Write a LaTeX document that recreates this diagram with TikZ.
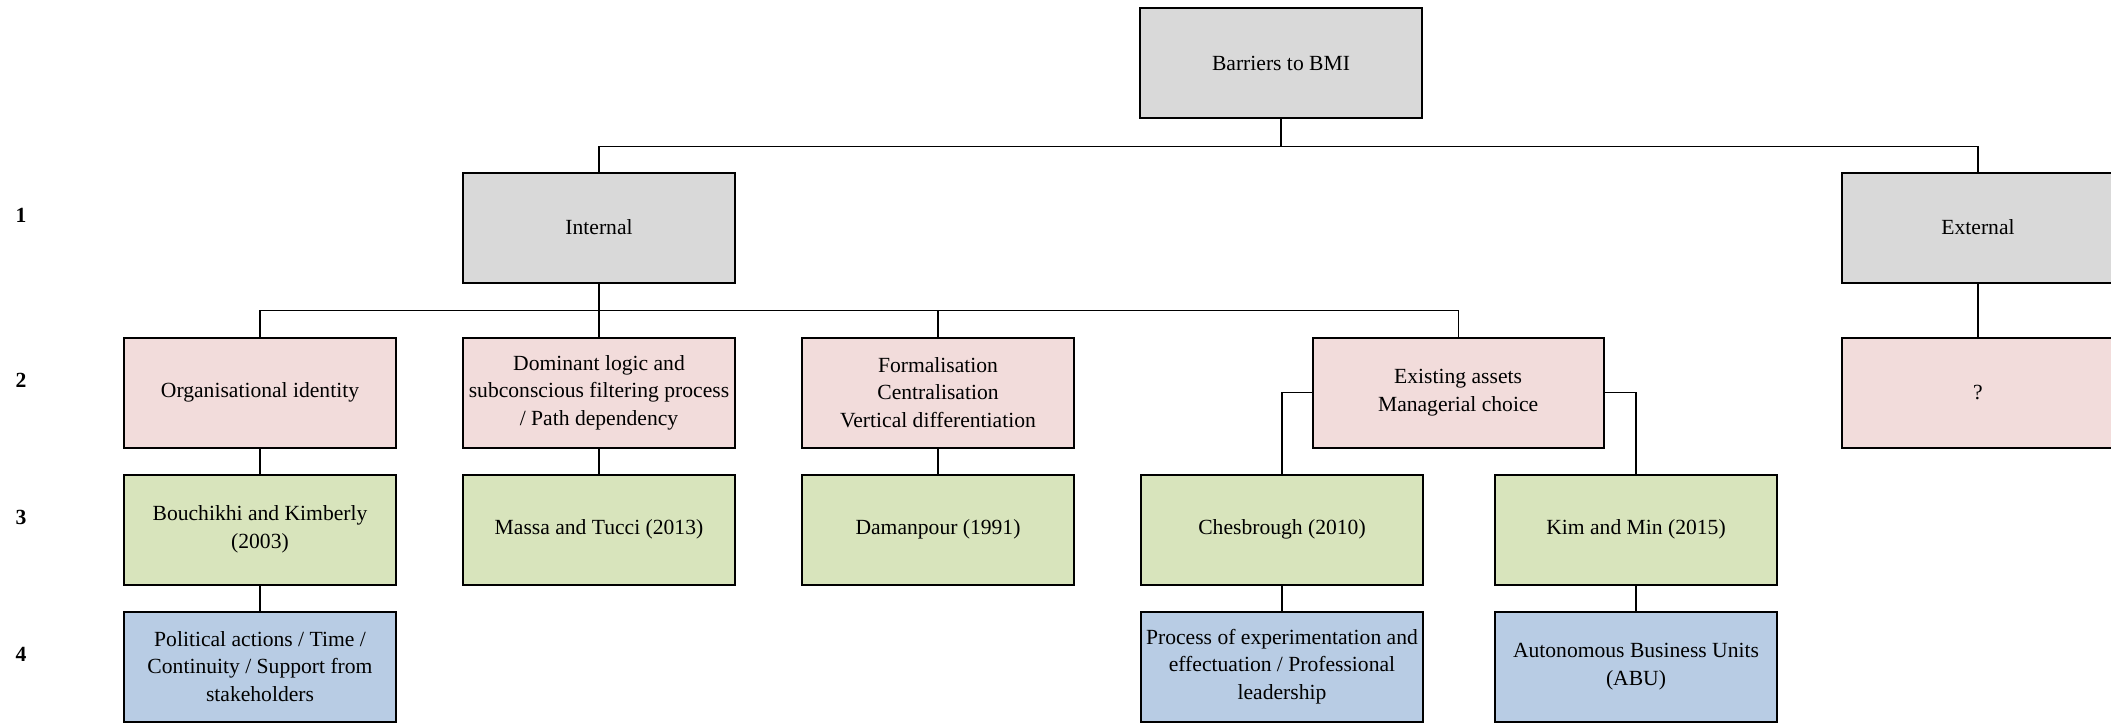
\documentclass[tikz,border=0pt]{standalone}
\usepackage{fontspec}
\setmainfont{Liberation Serif}
\usepackage{xcolor}
\usepackage{tikz}
\usetikzlibrary{positioning,calc}
\definecolor{levelgray}{HTML}{D9D9D9}
\definecolor{issuepink}{HTML}{F2DCDB}
\definecolor{sourcegreen}{HTML}{D8E4BC}
\definecolor{factorblue}{HTML}{B8CCE4}
\tikzset{
  box/.style={draw, line width=1pt, rectangle, minimum height=55pt, minimum width=136pt,
    inner sep=2pt, align=center, font=\fontsize{10.8pt}{13.8pt}\selectfont},
  level/.style={box, fill=levelgray},
  issue/.style={box, fill=issuepink},
  source/.style={box, fill=sourcegreen},
  factor/.style={box, fill=factorblue},
  rowno/.style={font=\fontsize{10.8pt}{13.8pt}\selectfont\bfseries},
  link/.style={line width=0.6pt},
}

\begin{document}
\begin{tikzpicture}
  \useasboundingbox (0,0) rectangle (1055.5pt,-361.5pt);
  % top levels
  \node[level, minimum width=141pt] (bmi) at (640.5pt,-31.5pt) {Barriers to BMI};
  \node[level] (int) at (299.5pt,-113.75pt) {Internal};
  \node[level] (ext) at (989pt,-113.75pt) {External};

  % barriers
  \node[issue, below=26.5pt of int] (dom) {Dominant logic and\\subconscious filtering process\\/ Path dependency};
  \node[issue, left=32.5pt of dom] (org) {Organisational identity};
  \node[issue, right=32.5pt of dom] (form) {Formalisation\\Centralisation\\Vertical differentiation};
  \node[issue, minimum width=145.5pt, right=118.3pt of form] (assets) {Existing assets\\Managerial choice};
  \node[issue, below=26.5pt of ext] (unk) {?};

  % sources
  \node[source, below=12.5pt of org] (bou) {Bouchikhi and Kimberly\\(2003)};
  \node[source, below=12.5pt of dom] (massa) {Massa and Tucci (2013)};
  \node[source, below=12.5pt of form] (dam) {Damanpour (1991)};
  \node[source, minimum width=141pt, right=32.5pt of dam] (ches) {Chesbrough (2010)};
  \node[source, minimum width=141pt, right=35pt of ches] (kim) {Kim and Min (2015)};

  % factors
  \node[factor, below=12.5pt of bou] (pol) {Political actions / Time /\\Continuity / Support from\\stakeholders};
  \node[factor, minimum width=141pt, below=12.5pt of ches] (proc) {Process of experimentation and\\effectuation / Professional\\leadership};
  \node[factor, minimum width=141pt, below=12.5pt of kim] (abu) {Autonomous Business Units\\(ABU)};

  % row numbers
  \node[rowno] (row1) at (10.5pt,-107.9pt) {1};
  \node[rowno] (row2) at (10.5pt,-190.4pt) {2};
  \node[rowno] (row3) at (10.5pt,-258.5pt) {3};
  \node[rowno] (row4) at (10.5pt,-327.4pt) {4};

  % connections
  \coordinate (bar1) at ($(bmi.south)+(0,-13.9pt)$);
  \draw[link] (bmi.south) -- (bar1);
  \draw[link] (bar1) -| (int.north);
  \draw[link] (bar1) -| (ext.north);
  \coordinate (bar2) at ($(int.south)+(0,-13.5pt)$);
  \draw[link] (int.south) -- (bar2);
  \draw[link] (bar2) -| (org.north);
  \draw[link] (bar2) -| (dom.north);
  \draw[link] (bar2) -| (form.north);
  \draw[link] (bar2) -| (assets.north);
  \draw[link] (ext.south) -- (unk.north);
  \draw[link] (assets.west) -| (ches.north);
  \draw[link] (assets.east) -| (kim.north);
  \draw[link] (org.south) -- (bou.north);
  \draw[link] (bou.south) -- (pol.north);
  \draw[link] (dom.south) -- (massa.north);
  \draw[link] (form.south) -- (dam.north);
  \draw[link] (ches.south) -- (proc.north);
  \draw[link] (kim.south) -- (abu.north);
\end{tikzpicture}
\end{document}
